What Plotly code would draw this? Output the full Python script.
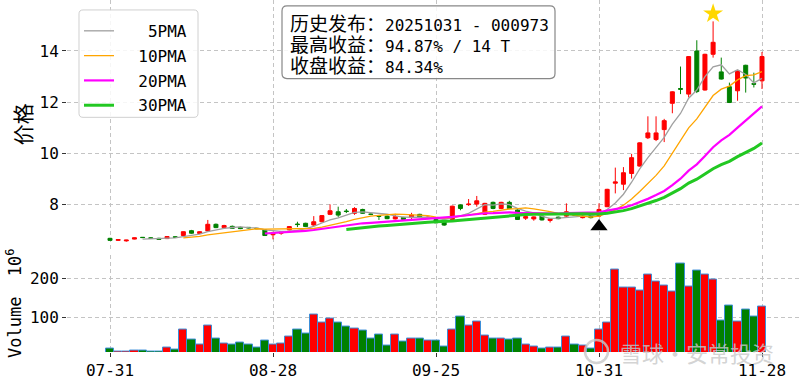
import plotly.graph_objects as go
import pandas as pd

# ---------------- data ----------------
dates = (
    ["07-31"]
    + ["08-01", "08-04", "08-05", "08-06", "08-07", "08-08", "08-11", "08-12", "08-13", "08-14", "08-15",
       "08-18", "08-19", "08-20", "08-21", "08-22", "08-25", "08-26", "08-27", "08-28", "08-29"]
    + ["09-01", "09-02", "09-03", "09-04", "09-05", "09-08", "09-09", "09-10", "09-11", "09-12",
       "09-15", "09-16", "09-17", "09-18", "09-19", "09-22", "09-23", "09-24", "09-25", "09-26", "09-29", "09-30"]
    + ["10-09", "10-10", "10-13", "10-14", "10-15", "10-16", "10-17", "10-20", "10-21", "10-22", "10-23", "10-24",
       "10-27", "10-28", "10-29", "10-30", "10-31"]
    + ["11-03", "11-04", "11-05", "11-06", "11-07", "11-10", "11-11", "11-12", "11-13", "11-14",
       "11-17", "11-18", "11-19", "11-20", "11-21", "11-24", "11-25", "11-26", "11-27", "11-28"]
)

opens = [6.66, 6.58, 6.56, 6.63, 6.70, 6.68, 6.66, 6.65, 6.72, 6.77,
         6.96, 6.85, 6.95, 7.21, 7.08, 7.13, 7.09, 7.09, 7.05, 6.99,
         6.80, 6.86, 6.99, 7.22, 7.25, 7.18, 7.31, 7.60, 7.70, 7.73,
         7.64, 7.79, 7.61, 7.54, 7.53, 7.42, 7.48, 7.48, 7.60, 7.44,
         7.40, 7.35, 7.40, 7.97, 7.98, 8.00, 7.60, 8.07, 7.83, 8.07,
         7.77, 7.45, 7.42, 7.53, 7.36, 7.49, 7.53, 7.60, 7.47, 7.55,
         7.53, 7.90, 8.82, 8.78, 9.20, 9.49, 10.60, 10.53, 10.92, 11.95,
         12.53, 12.31, 14.00, 12.47, 13.87, 13.18, 12.60, 12.44, 13.44, 12.72,
         12.83]
highs = [6.68, 6.62, 6.60, 6.69, 6.71, 6.70, 6.68, 6.75, 6.74, 6.93,
         6.99, 6.94, 7.38, 7.24, 7.19, 7.16, 7.12, 7.10, 7.07, 7.01,
         6.92, 6.94, 7.14, 7.31, 7.27, 7.53, 7.57, 7.99, 7.90, 7.81,
         7.88, 7.82, 7.63, 7.55, 7.55, 7.62, 7.50, 7.66, 7.62, 7.52,
         7.42, 7.37, 7.94, 7.99, 8.20, 8.32, 8.05, 8.10, 8.09, 8.13,
         7.80, 7.53, 7.52, 7.55, 7.44, 7.51, 8.03, 7.63, 7.58, 7.57,
         8.03, 8.60, 9.43, 9.45, 9.97, 10.42, 11.44, 11.44, 11.34, 12.42,
         13.39, 13.80, 14.42, 13.89, 15.16, 13.74, 12.76, 13.24, 13.46, 13.15,
         13.96]
lows = [6.56, 6.56, 6.53, 6.62, 6.67, 6.65, 6.60, 6.63, 6.68, 6.75,
        6.84, 6.83, 6.93, 7.06, 7.06, 7.03, 7.02, 7.05, 7.02, 6.75,
        6.62, 6.80, 6.97, 7.10, 7.10, 7.15, 7.29, 7.57, 7.50, 7.65,
        7.58, 7.62, 7.57, 7.38, 7.41, 7.40, 7.38, 7.40, 7.46, 7.41,
        7.25, 7.15, 7.38, 7.76, 7.93, 7.90, 7.58, 7.80, 7.80, 7.80,
        7.38, 7.38, 7.35, 7.36, 7.28, 7.41, 7.50, 7.55, 7.44, 7.44,
        7.50, 7.88, 8.42, 8.55, 9.00, 9.47, 10.55, 10.47, 10.43, 11.56,
        12.31, 12.18, 12.35, 12.45, 13.74, 12.88, 11.96, 12.05, 12.37, 12.57,
        12.51]
closes = [6.58, 6.61, 6.59, 6.68, 6.69, 6.66, 6.62, 6.73, 6.70, 6.92,
          6.86, 6.92, 7.21, 7.08, 7.16, 7.05, 7.04, 7.07, 7.04, 6.77,
          6.88, 6.90, 7.12, 7.20, 7.12, 7.31, 7.55, 7.74, 7.57, 7.71,
          7.83, 7.64, 7.60, 7.52, 7.43, 7.51, 7.40, 7.57, 7.48, 7.49,
          7.27, 7.18, 7.92, 7.83, 8.00, 8.13, 8.03, 7.83, 8.07, 7.83,
          7.40, 7.51, 7.50, 7.38, 7.42, 7.43, 7.70, 7.57, 7.53, 7.47,
          7.79, 8.58, 8.87, 9.23, 9.82, 10.40, 10.79, 10.79, 11.27, 12.40,
          12.50, 13.78, 12.41, 13.87, 14.34, 12.90, 11.98, 13.22, 12.94, 12.70,
          13.78]
volumes = [21, 13, 13, 15, 15, 13, 13, 24, 18, 68,
           42, 30, 78, 46, 33, 31, 36, 31, 24, 41,
           30, 33, 51, 69, 58, 107, 87, 97, 86, 76,
           71, 66, 47, 56, 29, 56, 38, 46, 46, 41,
           41, 26, 68, 102, 79, 90, 53, 47, 46, 42,
           46, 31, 25, 19, 23, 23, 52, 30, 27, 20,
           68, 88, 223, 176, 176, 169, 209, 191, 182, 166,
           238, 180, 220, 209, 196, 92, 130, 90, 120, 102,
           128]  # x 10^6

ma_windows = [5, 10, 20, 30]
ma_names = ["\u00a0\u00a0\u00a05PMA", "\u00a0\u00a010PMA", "\u00a0\u00a020PMA", "\u00a0\u00a030PMA"]
ma_colors = ["#a0a0a0", "#ffa500", "#ff00ff", "#22c822"]
ma_widths = [1.3, 1.3, 2.2, 3.0]

signal_index = 60   # 历史发布 2025-10-31
peak_index = 74     # 14 T after
tick_step = 20

info_lines = [("历史发布：", "20251031 - 000973"),
              ("最高收益：", "94.87% / 14 T"),
              ("收盘收益：", "84.34%")]
watermark = "雪球·安常投资"

UP = "#ff0000"
DOWN = "#008000"

# ---------------- layout helpers ----------------
W, H = 800, 380
ML, MR, MT, MB = 67, 0, 0, 26
PW, PH = W - ML - MR, H - MT - MB


def px2paper(x, y):
    return (x - ML) / PW, (PH + MT - y) / PH


def rounded_path(x0, y0, x1, y1, r):
    def P(x, y):
        a, b = px2paper(x, y)
        return f"{a:.5f},{b:.5f}"
    return (f"M {P(x0 + r, y0)} L {P(x1 - r, y0)} Q {P(x1, y0)} {P(x1, y0 + r)} "
            f"L {P(x1, y1 - r)} Q {P(x1, y1)} {P(x1 - r, y1)} "
            f"L {P(x0 + r, y1)} Q {P(x0, y1)} {P(x0, y1 - r)} "
            f"L {P(x0, y0 + r)} Q {P(x0, y0)} {P(x0 + r, y0)} Z")


# ---------------- figure ----------------
idx = list(range(len(dates)))
close_s = pd.Series(closes)

fig = go.Figure()

fig.add_trace(go.Candlestick(
    x=idx, open=opens, high=highs, low=lows, close=closes,
    increasing=dict(line=dict(color=UP, width=1), fillcolor=UP),
    decreasing=dict(line=dict(color=DOWN, width=1), fillcolor=DOWN),
    whiskerwidth=0, showlegend=False, xaxis="x", yaxis="y", hoverinfo="skip"))

for w, name, col, lw in zip(ma_windows, ma_names, ma_colors, ma_widths):
    ma = close_s.rolling(w).mean()
    fig.add_trace(go.Scatter(
        x=idx, y=ma, mode="lines", name=name, legendgroup=name,
        line=dict(color=col, width=lw), xaxis="x", yaxis="y"))

fig.add_trace(go.Scatter(
    x=[signal_index], y=[lows[signal_index] * 0.95], mode="markers",
    marker=dict(symbol="triangle-up", color="black", size=15),
    showlegend=False, xaxis="x", yaxis="y"))
fig.add_trace(go.Scatter(
    x=[peak_index], y=[highs[peak_index] * 1.02], mode="markers",
    marker=dict(symbol="star", color="#ffd700", size=15, line=dict(width=0)),
    showlegend=False, xaxis="x", yaxis="y"))

vol_colors = [UP if c >= o else DOWN for o, c in zip(opens, closes)]
fig.add_trace(go.Bar(
    x=idx, y=volumes, marker=dict(color=vol_colors, line=dict(color="#3d8fd9", width=1)),
    width=1.0, showlegend=False, xaxis="x2", yaxis="y2", hoverinfo="skip"))

tickvals = idx[::tick_step]
ticktext = [dates[i] for i in tickvals]
xr = [-(110 - ML) / 8.15, -(110 - ML) / 8.15 + PW / 8.15]

grid = dict(showgrid=True, gridcolor="#c4c4c4", gridwidth=1, griddash="4px,3px",
            zeroline=False, showline=False)
mono = "DejaVu Sans Mono, Noto Sans CJK SC"

fig.update_layout(
    width=W, height=H, margin=dict(l=ML, r=MR, t=MT, b=MB),
    paper_bgcolor="white", plot_bgcolor="white",
    font=dict(family=mono, size=16, color="black"),
    bargap=0,
    xaxis=dict(domain=[0, 1], range=xr, tickvals=tickvals, ticktext=ticktext,
               showticklabels=False, ticks="", rangeslider=dict(visible=False),
               anchor="y", **grid),
    xaxis2=dict(domain=[0, 1], range=xr, tickvals=tickvals, ticktext=ticktext,
                ticks="outside", ticklen=4, tickcolor="#333",
                tickfont=dict(family=mono, size=16), anchor="y2", matches="x", **grid),
    yaxis=dict(domain=[(PH - 250) / PH, 1], range=[8 - 46 / 25.67 + 0.05, 8 + 204 / 25.67 + 0.05],
               tickvals=[8, 10, 12, 14], ticks="outside", ticklen=4, tickcolor="#333",
               tickfont=dict(family=mono, size=16),
               title=dict(text="价格", font=dict(family="Noto Sans CJK SC", size=21), standoff=2),
               anchor="x", **grid),
    yaxis2=dict(domain=[0, (PH - 256) / PH], range=[(357.3 - 354) / 0.393 + 3, (357.3 - 256) / 0.393 + 3],
                tickvals=[100, 200], ticks="outside", ticklen=4, tickcolor="#333",
                tickfont=dict(family=mono, size=16),
                title=dict(text="Volume  10<sup>6</sup>", font=dict(family=mono, size=17), standoff=3),
                anchor="x2", **grid),
    legend=dict(x=px2paper(79, 0)[0], y=px2paper(0, 14)[1], xanchor="left", yanchor="top",
                bgcolor="rgba(0,0,0,0)", borderwidth=0, tracegroupgap=1,
                font=dict(family=mono, size=16)),
    showlegend=True,
)

# legend frame and info box frame (rounded)
fig.add_shape(type="path", path=rounded_path(79, 10, 198, 118, 4), xref="paper", yref="paper",
              fillcolor="rgba(255,255,255,0.85)", line=dict(color="#d0d0d0", width=1), layer="above")
fig.add_shape(type="path", path=rounded_path(282, 6, 555, 79, 5), xref="paper", yref="paper",
              fillcolor="rgba(255,255,255,0.85)", line=dict(color="#888888", width=1.2), layer="above")

info_text = "<br>".join(f'<span style="font-size:19px">{a}</span>{b}' for a, b in info_lines)
ax, ay = px2paper(288, 11)
fig.add_annotation(x=ax, y=ay, xref="paper", yref="paper", xanchor="left", yanchor="top",
                   text=info_text, showarrow=False, align="left",
                   font=dict(family=mono, size=16, color="black"))

# watermark
wx, wy = px2paper(618, 354)
fig.add_annotation(x=wx, y=wy, xref="paper", yref="paper", xanchor="left", yanchor="middle",
                   text=watermark, showarrow=False,
                   font=dict(family="Noto Sans CJK SC", size=22, color="rgba(200,200,200,0.8)"))
cx0, cy0 = px2paper(585, 342)
cx1, cy1 = px2paper(608, 365)
fig.add_shape(type="circle", xref="paper", yref="paper", x0=cx0, y0=cy1, x1=cx1, y1=cy0,
              line=dict(color="rgba(200,200,200,0.8)", width=2.5), layer="above")

fig.write_html("out.html", config={"displayModeBar": False},
               post_script="document.body.style.margin='0';document.body.style.overflow='hidden';")
